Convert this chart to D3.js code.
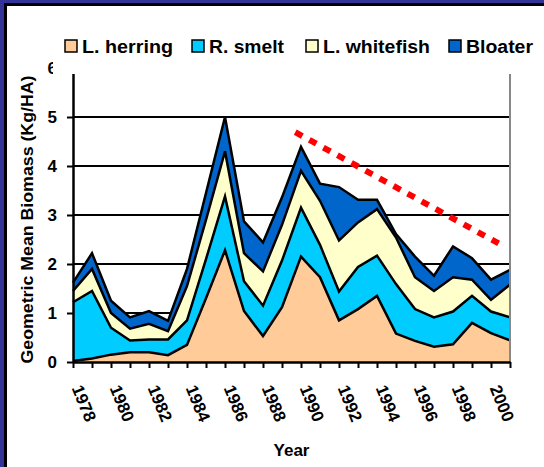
<!DOCTYPE html>
<html>
<head>
<meta charset="utf-8">
<script src="https://cdn.jsdelivr.net/npm/d3@7"></script>
<style>
body { margin: 0; background: #fff; }
svg { display: block; font-family: "Liberation Sans", Arial, sans-serif; font-weight: bold; }
</style>
</head>
<body>
<script>
//data, one value per year
var years = [1978, 1979, 1980, 1981, 1982, 1983, 1984, 1985, 1986, 1987, 1988, 1989,
             1990, 1991, 1992, 1993, 1994, 1995, 1996, 1997, 1998, 1999, 2000, 2001];
var herring   = [0.02, 0.07, 0.15, 0.20, 0.20, 0.14, 0.35, 1.30, 2.28, 1.04, 0.53, 1.12,
                 2.15, 1.73, 0.85, 1.08, 1.35, 0.58, 0.43, 0.31, 0.36, 0.80, 0.59, 0.44];
var smelt     = [1.20, 1.38, 0.55, 0.24, 0.26, 0.32, 0.50, 0.80, 1.10, 0.61, 0.62, 0.95,
                 1.00, 0.66, 0.59, 0.86, 0.82, 1.01, 0.65, 0.60, 0.67, 0.55, 0.44, 0.47];
var whitefish = [0.23, 0.45, 0.30, 0.24, 0.32, 0.17, 0.70, 0.80, 0.92, 0.57, 0.70, 0.73,
                 0.75, 0.90, 1.04, 0.91, 0.95, 0.95, 0.65, 0.54, 0.70, 0.33, 0.24, 0.67];
var bloater   = [0.17, 0.32, 0.25, 0.23, 0.26, 0.21, 0.35, 0.55, 0.70, 0.65, 0.59, 0.56,
                 0.49, 0.35, 1.09, 0.46, 0.19, 0.07, 0.42, 0.31, 0.63, 0.44, 0.41, 0.30];
var seriesKeys = ["herring", "smelt", "whitefish", "bloater"];
var seriesNames = ["L. herring", "R. smelt", "L. whitefish", "Bloater"];
var seriesColors = ["#FFCC99", "#00CCFF", "#FFFFCC", "#0066CC"];
var yTicks = [0, 1, 2, 3, 4, 5, 6];
var trendYears = [1989.7, 2000.4];
var trendValues = [4.69, 2.42];

var width = 544, height = 467;
var plot = {left: 73, right: 510, top: 68, bottom: 362};

var table = years.map(function(y, i){
    return {year: y, herring: herring[i], smelt: smelt[i], whitefish: whitefish[i], bloater: bloater[i]};
});

var xScale = d3.scaleLinear()
               .domain([years[0], years[years.length - 1]])
               .range([plot.left, plot.right]);

var yScale = d3.scaleLinear()
               .domain([0, 6])
               .range([plot.bottom, plot.top]);

var svg = d3.select("body")
            .append("svg")
            .attr("width", width)
            .attr("height", height);

//frame: blue band with a black line on the left and top
svg.append("rect").attr("x", 0).attr("y", 0).attr("width", width).attr("height", 3).attr("fill", "#333399");
svg.append("rect").attr("x", 0).attr("y", 0).attr("width", 4).attr("height", height).attr("fill", "#333399");
svg.append("rect").attr("x", 4).attr("y", 3).attr("width", width - 4).attr("height", 3).attr("fill", "#000");
svg.append("rect").attr("x", 4).attr("y", 3).attr("width", 3).attr("height", height - 3).attr("fill", "#000");

//gridlines
svg.append("g")
   .selectAll("line")
   .data(yTicks.slice(1))
   .enter()
   .append("line")
   .attr("x1", plot.left)
   .attr("x2", plot.right)
   .attr("y1", function(d){ return yScale(d); })
   .attr("y2", function(d){ return yScale(d); })
   .attr("stroke", "#000")
   .attr("stroke-width", 2);

//stacked areas
var stacked = d3.stack().keys(seriesKeys)(table);

var area = d3.area()
             .x(function(d){ return xScale(d.data.year); })
             .y0(function(d){ return yScale(d[0]); })
             .y1(function(d){ return yScale(d[1]); });

var topLine = d3.line()
                .x(function(d){ return xScale(d.data.year); })
                .y(function(d){ return yScale(d[1]); });

svg.append("g")
   .selectAll("path")
   .data(stacked)
   .enter()
   .append("path")
   .attr("d", area)
   .attr("fill", function(d, i){ return seriesColors[i]; });

svg.append("g")
   .selectAll("path")
   .data(stacked)
   .enter()
   .append("path")
   .attr("d", topLine)
   .attr("fill", "none")
   .attr("stroke", "#000")
   .attr("stroke-width", 2.5)
   .attr("stroke-linejoin", "miter");

//right edge of the plot
svg.append("line")
   .attr("x1", plot.right).attr("x2", plot.right)
   .attr("y1", plot.top).attr("y2", plot.bottom)
   .attr("stroke", "#888")
   .attr("stroke-width", 2);

//axes
var yAxis = d3.axisLeft(yScale)
              .tickValues(yTicks)
              .tickSize(6)
              .tickSizeOuter(0)
              .tickPadding(10)
              .tickFormat(d3.format("d"));

var gy = svg.append("g")
            .attr("transform", "translate(" + plot.left + ",0)")
            .call(yAxis);
gy.select(".domain").attr("stroke-width", 2.5);
gy.selectAll(".tick line").attr("stroke-width", 2);
gy.selectAll("text").attr("font-size", 17).attr("font-weight", "bold").attr("fill", "#000")
  .attr("font-family", "Liberation Sans, Arial, sans-serif");

var xAxis = d3.axisBottom(xScale)
              .tickValues(years)
              .tickSize(6)
              .tickSizeOuter(0)
              .tickFormat(function(d){ return d % 2 == 0 ? d : ""; });

var gx = svg.append("g")
            .attr("transform", "translate(0," + plot.bottom + ")")
            .call(xAxis);
gx.select(".domain").attr("stroke-width", 2.5);
gx.selectAll(".tick line").attr("stroke-width", 2);
gx.selectAll("text")
  .attr("font-size", 17)
  .attr("font-weight", "bold")
  .attr("fill", "#000")
  .attr("font-family", "Liberation Sans, Arial, sans-serif")
  .attr("text-anchor", "start")
  .attr("y", 0)
  .attr("dy", 0)
  .attr("transform", "translate(-2,26) rotate(68)");

//trend line
svg.append("line")
   .attr("x1", xScale(trendYears[0])).attr("y1", yScale(trendValues[0]))
   .attr("x2", xScale(trendYears[1])).attr("y2", yScale(trendValues[1]))
   .attr("stroke", "#FF0000")
   .attr("stroke-width", 6)
   .attr("stroke-dasharray", "8,8");

//axis titles
svg.append("text")
   .attr("transform", "translate(33," + ((plot.bottom + 77) / 2) + ") rotate(-90)")
   .attr("text-anchor", "middle")
   .attr("font-size", 17)
   .attr("textLength", 288)
   .attr("lengthAdjust", "spacingAndGlyphs")
   .text("Geometric Mean Biomass (Kg/HA)");

svg.append("text")
   .attr("x", (plot.left + plot.right) / 2)
   .attr("y", 456)
   .attr("text-anchor", "middle")
   .attr("font-size", 17)
   .text("Year");

//legend on a white box over the top of the plot
var legendX = [65, 192, 306, 449];
var legendW = [91, 75, 107, 67];

svg.append("rect")
   .attr("x", 53).attr("y", 10)
   .attr("width", width - 53).attr("height", 64)
   .attr("fill", "#fff");

var legend = svg.append("g")
                .selectAll("g")
                .data(seriesNames)
                .enter()
                .append("g")
                .attr("transform", function(d, i){ return "translate(" + legendX[i] + ",40)"; });

legend.append("rect")
      .attr("width", 12).attr("height", 12)
      .attr("fill", function(d, i){ return seriesColors[i]; })
      .attr("stroke", "#000")
      .attr("stroke-width", 1.5);

legend.append("text")
      .attr("x", 17)
      .attr("y", 13)
      .attr("font-size", 18)
      .attr("textLength", function(d, i){ return legendW[i]; })
      .attr("lengthAdjust", "spacingAndGlyphs")
      .text(function(d){ return d; });
</script>
</body>
</html>
